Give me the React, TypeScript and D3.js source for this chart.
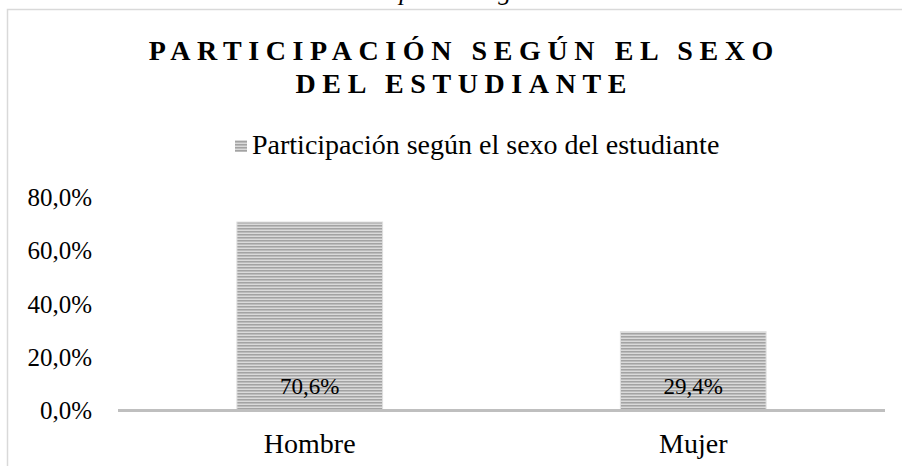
import React, { useEffect, useRef } from 'react';
import * as d3 from 'd3';

const categories = ['Hombre', 'Mujer'];
const values = [0.706, 0.294];
const yTicks = [0, 0.2, 0.4, 0.6, 0.8];
const seriesName = 'Participación según el sexo del estudiante';
const titleLines = ['PARTICIPACIÓN SEGÚN EL SEXO', 'DEL ESTUDIANTE'];

const W = 902;
const H = 466;
const FONT = '"Liberation Serif", "Times New Roman", serif';

const locale = d3.formatLocale({ decimal: ',', thousands: '.', grouping: [3], currency: ['', '€'] });
const pct = locale.format('.1%');

export default function App() {
  const ref = useRef<SVGSVGElement>(null);

  useEffect(() => {
    const svg = d3.select(ref.current);
    svg.selectAll('*').remove();

    const margin = { left: 118, right: 17, top: 197, bottom: 56 };

    const x = d3.scaleBand()
      .domain(categories)
      .range([margin.left, W - margin.right])
      .paddingInner(0.62)
      .paddingOuter(0.31);

    const y = d3.scaleLinear().domain([0, 0.8]).range([H - margin.bottom, margin.top]);

    // stripe pattern for bars
    const defs = svg.append('defs');
    const pat = defs.append('pattern')
      .attr('id', 'stripes')
      .attr('patternUnits', 'userSpaceOnUse')
      .attr('width', 6)
      .attr('height', 3);
    pat.append('rect').attr('width', 6).attr('height', 3).attr('fill', '#dadada');
    pat.append('rect').attr('y', 0).attr('width', 6).attr('height', 1).attr('fill', '#a3a3a3');
    pat.append('rect').attr('y', 1).attr('width', 6).attr('height', 1).attr('fill', '#bcbcbc');

    // caption above the frame, cut by the page edge as in the original
    svg.append('text')
      .attr('x', 327)
      .attr('y', 0)
      .style('font-family', FONT)
      .style('font-style', 'italic')
      .style('font-size', '26px')
      .attr('fill', '#000')
      .text('Participación según sexo');

    // chart frame
    svg.append('rect')
      .attr('x', 7.5)
      .attr('y', 9.5)
      .attr('width', 1000)
      .attr('height', 1000)
      .attr('fill', 'white')
      .attr('stroke', '#d9d9d9')
      .attr('stroke-width', 1.5);

    // title
    const ls = 6.6;
    svg.append('g').selectAll('text')
      .data(titleLines)
      .enter()
      .append('text')
      .attr('x', 461 + ls / 2)
      .attr('y', (d, i) => 60 + i * 33)
      .attr('text-anchor', 'middle')
      .style('font-family', FONT)
      .style('font-weight', 'bold')
      .style('font-size', '28px')
      .style('letter-spacing', `${ls}px`)
      .attr('fill', '#000')
      .text(d => d);

    // legend
    const lg = svg.append('g');
    lg.append('rect')
      .attr('x', 235)
      .attr('y', 140)
      .attr('width', 12)
      .attr('height', 12)
      .attr('fill', 'url(#stripes)');
    lg.append('text')
      .attr('x', 252)
      .attr('y', 154)
      .style('font-family', FONT)
      .style('font-size', '28px')
      .attr('fill', '#000')
      .text(seriesName);

    // y axis labels
    svg.append('g').selectAll('text')
      .data(yTicks)
      .enter()
      .append('text')
      .attr('x', 92)
      .attr('y', d => y(d) + 9)
      .attr('text-anchor', 'end')
      .style('font-family', FONT)
      .style('font-size', '25px')
      .attr('fill', '#000')
      .text(d => pct(d));

    // bars
    svg.append('g').selectAll('rect')
      .data(values)
      .enter()
      .append('rect')
      .attr('x', (d, i) => x(categories[i])!)
      .attr('y', d => y(d))
      .attr('width', x.bandwidth())
      .attr('height', d => y(0) - y(d))
      .attr('fill', 'url(#stripes)')
      .attr('stroke', '#e0e0e0')
      .attr('stroke-width', 1);

    // x axis line
    svg.append('line')
      .attr('x1', margin.left)
      .attr('x2', W - margin.right)
      .attr('y1', y(0) + 0.5)
      .attr('y2', y(0) + 0.5)
      .attr('stroke', '#bfbfbf')
      .attr('stroke-width', 3);

    // data labels
    svg.append('g').selectAll('text')
      .data(values)
      .enter()
      .append('text')
      .attr('x', (d, i) => x(categories[i])! + x.bandwidth() / 2)
      .attr('y', y(0) - 16)
      .attr('text-anchor', 'middle')
      .style('font-family', FONT)
      .style('font-size', '23px')
      .attr('fill', '#000')
      .text(d => pct(d));

    // category labels
    svg.append('g').selectAll('text')
      .data(categories)
      .enter()
      .append('text')
      .attr('x', d => x(d)! + x.bandwidth() / 2)
      .attr('y', 453)
      .attr('text-anchor', 'middle')
      .style('font-family', FONT)
      .style('font-size', '28px')
      .attr('fill', '#000')
      .text(d => d);
  }, []);

  return (
    <svg
      ref={ref}
      width={W}
      height={H}
      style={{ position: 'absolute', left: 0, top: 0, background: 'white' }}
    />
  );
}
